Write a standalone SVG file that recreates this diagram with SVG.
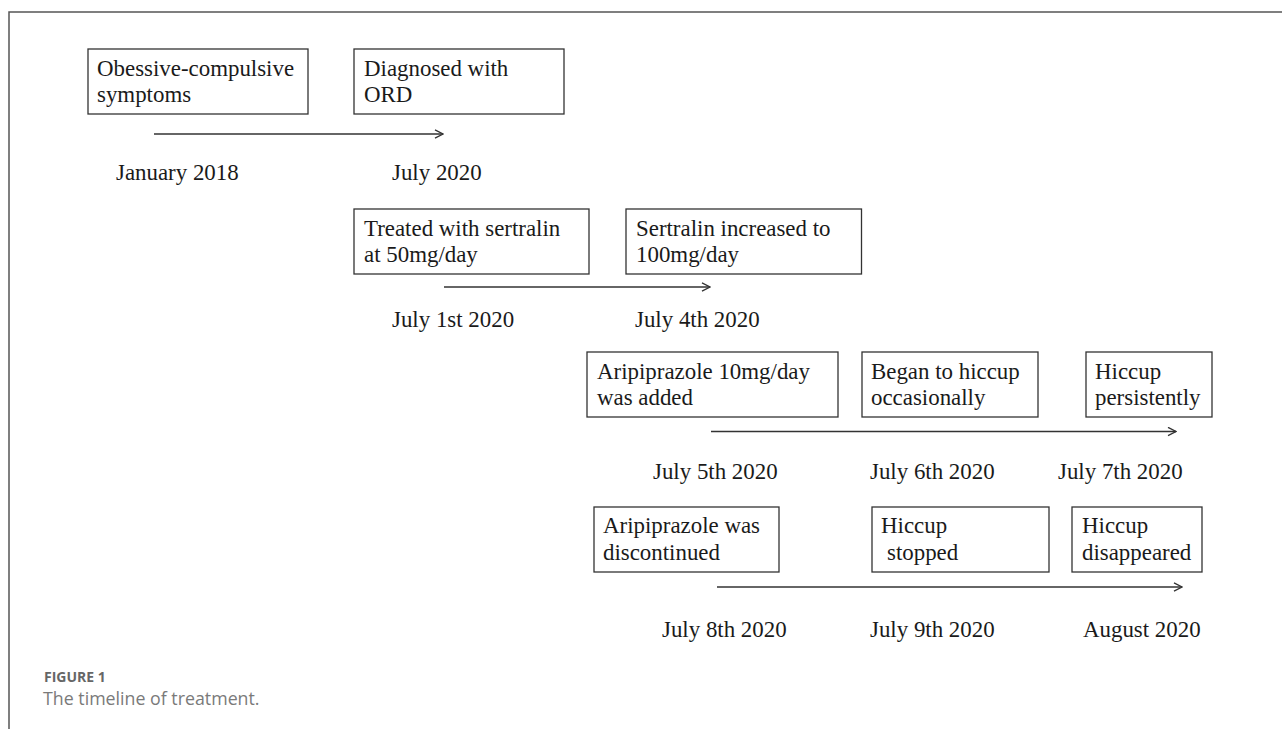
<svg xmlns="http://www.w3.org/2000/svg" width="1282" height="729" viewBox="0 0 1282 729">
  <style>
    .box { fill: #ffffff; stroke: #333333; stroke-width: 1.3; }
    .t { font-family: "Liberation Serif", "Times New Roman", serif; font-size: 22.9px; fill: #1a1a1a; }
    .conn { stroke: #333333; stroke-width: 1.3; fill: none; marker-end: url(#arrow); }
    .frame { stroke: #555555; stroke-width: 1.5; fill: none; }
    .figlabel { font-family: "Open Sans", "Noto Sans", sans-serif; font-size: 14px; font-weight: bold; fill: #666666; }
    .caption { font-family: "Open Sans", "Noto Sans", sans-serif; font-size: 17.8px; fill: #7a7a7a; }
  </style>
  <defs>
    <marker id="arrow" viewBox="0 0 10 10" refX="9.5" refY="5" markerWidth="10" markerHeight="10" markerUnits="userSpaceOnUse" orient="auto">
      <path d="M1.5,0.8 L9.5,5 L1.5,9.2" fill="none" stroke="#333333" stroke-width="1.3"/>
    </marker>
  </defs>
  <rect x="0" y="0" width="1282" height="729" fill="#ffffff"/>
  <path class="frame" d="M9,729 L9,12 L1282,12"/>

  <g id="connectors">
    <line class="conn" x1="154" y1="134" x2="443" y2="134"/>
    <line class="conn" x1="444" y1="287" x2="710" y2="287"/>
    <line class="conn" x1="711" y1="431.5" x2="1176" y2="431.5"/>
    <line class="conn" x1="717" y1="587" x2="1182" y2="587"/>
  </g>

  <g id="node-ocs">
    <rect class="box" x="88" y="49" width="220" height="65"/>
    <text class="t" x="97" y="76">Obessive-compulsive</text>
    <text class="t" x="97" y="102">symptoms</text>
  </g>
  <g id="node-ord">
    <rect class="box" x="354" y="49" width="210" height="65"/>
    <text class="t" x="364" y="76">Diagnosed with</text>
    <text class="t" x="364" y="102">ORD</text>
  </g>
  <g id="date-jan2018"><text class="t" x="116" y="180">January 2018</text></g>
  <g id="date-jul2020"><text class="t" x="392" y="180">July 2020</text></g>

  <g id="node-sertralin50">
    <rect class="box" x="354" y="209" width="235" height="65"/>
    <text class="t" x="364" y="236">Treated with sertralin</text>
    <text class="t" x="364" y="262">at 50mg/day</text>
  </g>
  <g id="node-sertralin100">
    <rect class="box" x="626" y="209" width="235.5" height="65"/>
    <text class="t" x="636" y="236">Sertralin increased to</text>
    <text class="t" x="636" y="262">100mg/day</text>
  </g>
  <g id="date-jul1"><text class="t" x="392" y="327">July 1st 2020</text></g>
  <g id="date-jul4"><text class="t" x="635" y="327">July 4th 2020</text></g>

  <g id="node-aripiprazole-added">
    <rect class="box" x="587" y="352" width="251" height="65"/>
    <text class="t" x="597" y="379">Aripiprazole 10mg/day</text>
    <text class="t" x="597" y="405">was added</text>
  </g>
  <g id="node-hiccup-occasional">
    <rect class="box" x="862" y="352" width="176" height="65"/>
    <text class="t" x="871" y="379">Began to hiccup</text>
    <text class="t" x="871" y="405">occasionally</text>
  </g>
  <g id="node-hiccup-persistent">
    <rect class="box" x="1086" y="352" width="126" height="65"/>
    <text class="t" x="1095" y="379">Hiccup</text>
    <text class="t" x="1095" y="405">persistently</text>
  </g>
  <g id="date-jul5"><text class="t" x="653" y="479">July 5th 2020</text></g>
  <g id="date-jul6"><text class="t" x="870" y="479">July 6th 2020</text></g>
  <g id="date-jul7"><text class="t" x="1058" y="479">July 7th 2020</text></g>

  <g id="node-aripiprazole-discontinued">
    <rect class="box" x="594" y="507" width="185" height="65"/>
    <text class="t" x="603" y="533">Aripiprazole was</text>
    <text class="t" x="603" y="560">discontinued</text>
  </g>
  <g id="node-hiccup-stopped">
    <rect class="box" x="872" y="507" width="177" height="65"/>
    <text class="t" x="881" y="533">Hiccup</text>
    <text class="t" x="887" y="560">stopped</text>
  </g>
  <g id="node-hiccup-disappeared">
    <rect class="box" x="1072" y="507" width="130" height="65"/>
    <text class="t" x="1082" y="533">Hiccup</text>
    <text class="t" x="1082" y="560">disappeared</text>
  </g>
  <g id="date-jul8"><text class="t" x="662" y="637">July 8th 2020</text></g>
  <g id="date-jul9"><text class="t" x="870" y="637">July 9th 2020</text></g>
  <g id="date-aug2020"><text class="t" x="1083" y="637">August 2020</text></g>

  <text class="figlabel" x="44" y="682">FIGURE 1</text>
  <text class="caption" x="43" y="705">The timeline of treatment.</text>
</svg>
